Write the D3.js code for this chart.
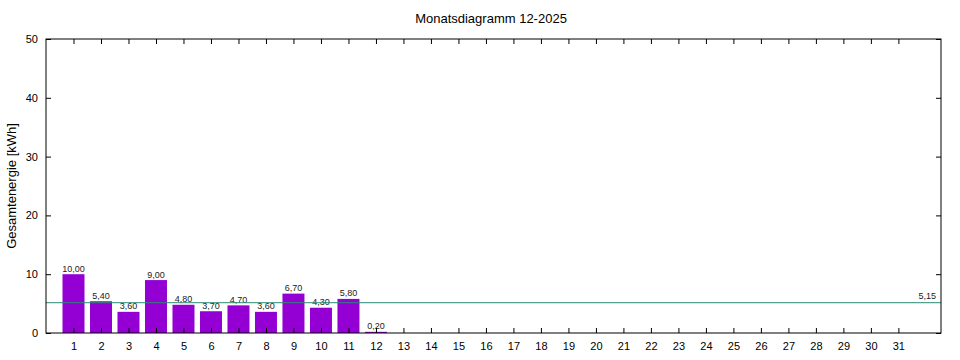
<!DOCTYPE html>
<html><head><meta charset="utf-8">
<script src="https://cdn.jsdelivr.net/npm/d3@7"></script>
<style>body{margin:0;background:#fff}svg{display:block}</style>
</head><body>
<svg id="c" width="960" height="360"></svg>
<script>
const days = d3.range(1, 32);
const values = [10.00, 5.40, 3.60, 9.00, 4.80, 3.70, 4.70, 3.60, 6.70, 4.30, 5.80, 0.20];
const meanValue = 5.15;
const yTicks = [0, 10, 20, 30, 40, 50];
const title = "Monatsdiagramm 12-2025";
const yLabel = "Gesamtenergie [kWh]";

const svg = d3.select("#c");
const L = 46, R = 941, T = 39, B = 333;
const x = d3.scaleLinear().domain([0, 32.55]).range([L, R]);
const y = d3.scaleLinear().domain([0, 50]).range([B, T]);
const fmt = v => v.toFixed(2).replace(".", ",");
const font = "Liberation Sans, Arial, sans-serif";
const bw = (x(1) - x(0)) * 0.8;

svg.append("text").attr("x", 491).attr("y", 23).attr("text-anchor", "middle")
  .attr("font-family", font).attr("font-size", 13).text(title);

svg.append("text").attr("transform", `translate(16,${(T + B) / 2}) rotate(-90)`)
  .attr("text-anchor", "middle").attr("font-family", font).attr("font-size", 13).text(yLabel);

// bars
svg.append("g").selectAll("rect").data(values).join("rect")
  .attr("x", (d, i) => x(i + 1) - bw / 2).attr("width", bw)
  .attr("y", d => y(d)).attr("height", d => B - y(d))
  .attr("fill", "#9400d3");

svg.append("g").selectAll("text").data(values).join("text")
  .attr("x", (d, i) => x(i + 1)).attr("y", d => y(d) - 2.5)
  .attr("text-anchor", "middle").attr("font-family", font).attr("font-size", 9)
  .attr("fill", "#222").text(d => fmt(d));

// mean line
svg.append("line").attr("x1", L).attr("x2", R).attr("y1", y(meanValue)).attr("y2", y(meanValue))
  .attr("stroke", "#2a8a74").attr("stroke-width", 1);
svg.append("text").attr("x", R - 5).attr("y", y(meanValue) - 4).attr("text-anchor", "end")
  .attr("font-family", font).attr("font-size", 9).attr("fill", "#222").text(fmt(meanValue));

// axes
const axB = svg.append("g").attr("transform", `translate(0,${B})`)
  .call(d3.axisBottom(x).tickValues(days).tickSizeInner(-5).tickSizeOuter(0).tickPadding(9));
const axT = svg.append("g").attr("transform", `translate(0,${T})`)
  .call(d3.axisTop(x).tickValues(days).tickSizeInner(-5).tickSizeOuter(0).tickFormat(""));
const axL = svg.append("g").attr("transform", `translate(${L},0)`)
  .call(d3.axisLeft(y).tickValues(yTicks).tickSizeInner(-5).tickSizeOuter(0).tickPadding(8));
const axR = svg.append("g").attr("transform", `translate(${R},0)`)
  .call(d3.axisRight(y).tickValues(yTicks).tickSizeInner(-5).tickSizeOuter(0).tickFormat(""));
[axB, axT, axL, axR].forEach(a => {
  a.select(".domain").remove();
  a.selectAll("line").attr("stroke", "#000");
  a.selectAll("text").attr("font-family", font).attr("font-size", 11).attr("fill", "#000");
});
svg.append("rect").attr("x", L).attr("y", T).attr("width", R - L).attr("height", B - T)
  .attr("fill", "none").attr("stroke", "#000").attr("stroke-width", 1);
</script>
</body></html>
